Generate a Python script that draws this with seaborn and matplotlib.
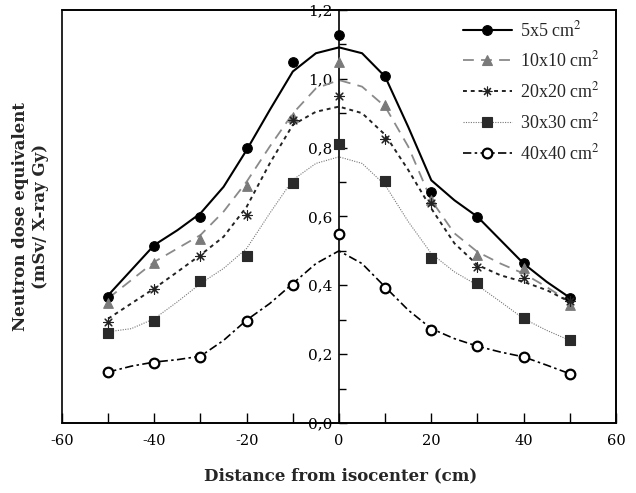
import numpy as np
import pandas as pd
import matplotlib
matplotlib.use("Agg")
import matplotlib.pyplot as plt
import matplotlib.ticker as mticker
from matplotlib.lines import Line2D
from matplotlib.patches import Rectangle
import seaborn as sns

sns.set_theme(style="white")
plt.rcParams["font.family"] = ["DejaVu Serif"]
plt.rcParams["mathtext.fontset"] = "stix"

# measured points
x_pts = [-50, -40, -30, -20, -10, 0, 10, 20, 30, 40, 50]
y_5x5 = [0.367, 0.515, 0.599, 0.800, 1.049, 1.126, 1.009, 0.671, 0.597, 0.464, 0.364]
y_10x10 = [0.348, 0.464, 0.534, 0.689, 0.889, 1.050, 0.924, 0.648, 0.488, 0.450, 0.343]
y_20x20 = [0.292, 0.389, 0.484, 0.603, 0.881, 0.949, 0.825, 0.639, 0.452, 0.421, 0.353]
y_30x30 = [0.261, 0.297, 0.413, 0.485, 0.696, 0.811, 0.702, 0.479, 0.408, 0.304, 0.241]
y_40x40 = [0.149, 0.175, 0.193, 0.297, 0.401, 0.549, 0.391, 0.270, 0.224, 0.193, 0.142]

# fitted curves (read every 5 cm)
x_fit = [-50, -45, -40, -35, -30, -25, -20, -15, -10, -5, 0,
         5, 10, 15, 20, 25, 30, 35, 40, 45, 50]
f_5x5 = [0.371, 0.444, 0.517, 0.560, 0.609, 0.686, 0.793, 0.909, 1.021, 1.074, 1.091,
         1.074, 1.006, 0.860, 0.705, 0.647, 0.599, 0.531, 0.463, 0.410, 0.364]
f_10x10 = [0.362, 0.415, 0.468, 0.507, 0.546, 0.614, 0.701, 0.803, 0.899, 0.972, 0.996,
           0.977, 0.919, 0.803, 0.647, 0.551, 0.497, 0.463, 0.434, 0.395, 0.352]
f_20x20 = [0.303, 0.347, 0.391, 0.439, 0.488, 0.541, 0.628, 0.754, 0.866, 0.904, 0.919,
           0.900, 0.837, 0.735, 0.623, 0.522, 0.459, 0.429, 0.410, 0.386, 0.352]
f_30x30 = [0.265, 0.274, 0.303, 0.352, 0.405, 0.449, 0.507, 0.609, 0.706, 0.754, 0.773,
           0.754, 0.691, 0.585, 0.492, 0.439, 0.400, 0.352, 0.303, 0.269, 0.240]
f_40x40 = [0.148, 0.165, 0.177, 0.184, 0.194, 0.240, 0.299, 0.347, 0.405, 0.463, 0.500,
           0.463, 0.395, 0.328, 0.274, 0.245, 0.223, 0.206, 0.192, 0.168, 0.143]

labels = [r"5x5 cm$^2$", r"10x10 cm$^2$", r"20x20 cm$^2$", r"30x30 cm$^2$", r"40x40 cm$^2$"]

series = [
    # points, fit, line color, line style, lw, marker, marker face, marker edge
    (y_5x5, f_5x5, "black", "-", 1.5, "o", "black", "black"),
    (y_10x10, f_10x10, "#8a8a8a", (0, (6, 4)), 1.3, "^", "#7a7a7a", "#7a7a7a"),
    (y_20x20, f_20x20, "#222222", (0, (2, 2)), 1.4, (8, 2, 0), "#222222", "#222222"),
    (y_30x30, f_30x30, "#777777", (0, (1, 1.2)), 0.8, "s", "#2a2a2a", "#2a2a2a"),
    (y_40x40, f_40x40, "black", (0, (5, 2, 1.5, 2)), 1.2, "o", "white", "black"),
]

fig = plt.figure(figsize=(6.36, 4.93), dpi=100)
ax = fig.add_axes([0.0975, 0.142, 0.871, 0.838])

handles = []
for (pts, fit, lc, ls, lw, mk, mfc, mec), lab in zip(series, labels):
    sns.lineplot(x=x_fit, y=fit, ax=ax, color=lc, linestyle=ls, linewidth=lw, sort=False)
    sns.scatterplot(x=x_pts, y=pts, ax=ax, marker=mk, s=48, color=mfc,
                    edgecolor=mec, linewidth=1.6 if mfc == "white" else 0.8, zorder=5)
    handles.append(Line2D([], [], color=lc, linestyle=ls, linewidth=lw, marker=mk,
                          markersize=7, markerfacecolor=mfc, markeredgecolor=mec,
                          markeredgewidth=1.6 if mfc == "white" else 0.8))

ax.set_xlim(-60, 60)
ax.set_ylim(0.0, 1.2)

# y axis drawn through x = 0, plus a full outer frame
ax.spines["left"].set_position(("data", 0))
for s in ax.spines.values():
    s.set_color("black")
    s.set_linewidth(1.2)
ax.add_patch(Rectangle((0, 0), 1, 1, transform=ax.transAxes, fill=False,
                       edgecolor="black", linewidth=1.2, clip_on=False, zorder=6))

ax.xaxis.set_major_locator(mticker.MultipleLocator(20))
ax.xaxis.set_minor_locator(mticker.MultipleLocator(10))
ax.yaxis.set_major_locator(mticker.MultipleLocator(0.2))
ax.yaxis.set_minor_locator(mticker.MultipleLocator(0.1))
ax.yaxis.set_major_formatter(mticker.FuncFormatter(lambda v, p: f"{v:.1f}".replace(".", ",")))
ax.xaxis.set_major_formatter(mticker.FuncFormatter(lambda v, p: f"{v:.0f}"))
ax.tick_params(axis="both", which="both", direction="in", color="black", labelsize=10.5,
               labelcolor="black")
ax.tick_params(axis="x", which="both", length=7, width=1, pad=8)
ax.tick_params(axis="y", which="major", length=6, width=1, pad=5, labelsize=11)
ax.tick_params(axis="y", which="minor", length=5, width=1)
ax.tick_params(left=True, bottom=True, which="both")

ax.set_xlabel("")
ax.set_ylabel("")
fig.text(0.535, 0.035, "Distance from isocenter (cm)", ha="center", va="center",
         fontsize=12, fontweight="bold")
fig.text(0.048, 0.56, "Neutron dose equivalent\n(mSv/ X-ray Gy)", ha="center", va="center",
         rotation=90, fontsize=12, fontweight="bold", linespacing=1.3)

leg = ax.legend(handles, labels, loc="upper right", bbox_to_anchor=(1.0, 1.015),
                frameon=False, handlelength=2.7, handletextpad=0.45, labelspacing=0.6,
                prop={"family": "Liberation Serif", "size": 13})

fig.savefig("out.png", dpi=100)
